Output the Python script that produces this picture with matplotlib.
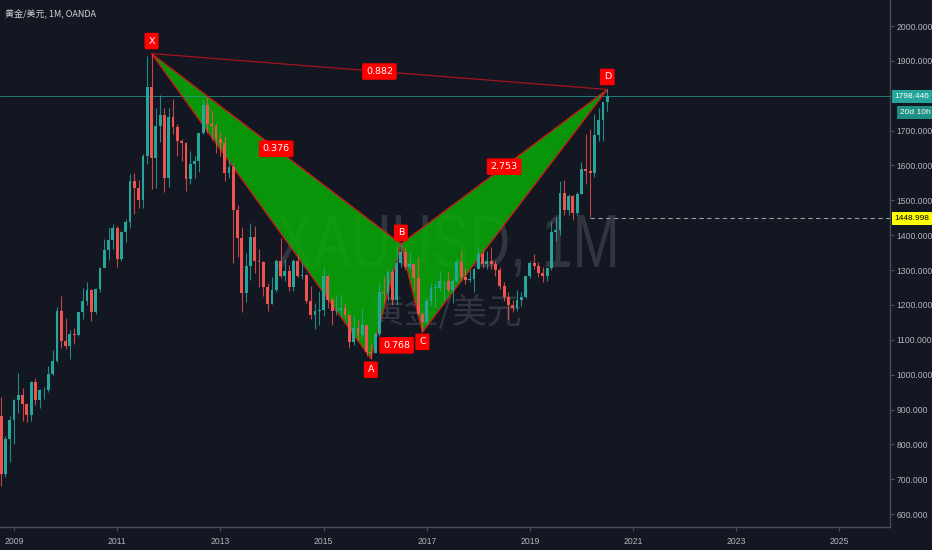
import matplotlib
matplotlib.use('Agg')
import matplotlib.pyplot as plt
from matplotlib.patches import Polygon, PathPatch
from matplotlib.textpath import TextPath
from matplotlib.font_manager import FontProperties
import matplotlib.transforms as mtrans
import pandas as pd

# monthly XAUUSD candles, Oct 2008 .. Jul 2020 (last bar still open)
start_month = '2008-10'
opens = [880, 716, 814,
         869, 927, 942, 916, 883, 979, 927, 955, 955, 1001, 1040, 1182,
         1096, 1081, 1118, 1113, 1179, 1212, 1244, 1181, 1247, 1307, 1357, 1386,
         1421, 1332, 1409, 1439, 1556, 1536, 1500, 1628, 1826, 1620, 1714, 1746,
         1564, 1738, 1710, 1669, 1664, 1561, 1604, 1614, 1692, 1772, 1719, 1713,
         1675, 1664, 1578, 1595, 1472, 1393, 1234, 1313, 1396, 1327, 1323, 1250,
         1202, 1244, 1326, 1284, 1296, 1250, 1327, 1282, 1287, 1210, 1171, 1182,
         1184, 1283, 1213, 1183, 1184, 1190, 1172, 1095, 1135, 1115, 1142, 1065,
         1061, 1118, 1238, 1233, 1293, 1215, 1321, 1351, 1309, 1316, 1277, 1173,
         1152, 1211, 1249, 1249, 1268, 1268, 1242, 1269, 1322, 1280, 1271, 1275,
         1303, 1345, 1318, 1325, 1316, 1299, 1253, 1224, 1201, 1192, 1215, 1222,
         1282, 1321, 1313, 1292, 1284, 1305, 1409, 1414, 1520, 1472, 1513, 1464,
         1517, 1589, 1585, 1577, 1687, 1730, 1781]
highs = [936, 825, 880,
         930, 1006, 962, 920, 983, 990, 960, 965, 1025, 1070, 1195, 1227,
         1162, 1128, 1135, 1180, 1249, 1266, 1245, 1249, 1310, 1388, 1424, 1431,
         1425, 1411, 1447, 1575, 1577, 1558, 1632, 1913, 1921, 1764, 1803, 1764,
         1764, 1791, 1719, 1677, 1668, 1641, 1627, 1693, 1790, 1796, 1755, 1723,
         1696, 1684, 1617, 1605, 1487, 1424, 1348, 1434, 1425, 1361, 1327, 1262,
         1280, 1332, 1392, 1331, 1315, 1332, 1345, 1323, 1288, 1255, 1206, 1239,
         1308, 1287, 1224, 1225, 1232, 1205, 1175, 1170, 1157, 1191, 1142, 1088,
         1123, 1263, 1283, 1304, 1304, 1362, 1375, 1367, 1352, 1318, 1338, 1180,
         1220, 1264, 1264, 1296, 1270, 1296, 1274, 1331, 1358, 1306, 1299, 1306,
         1366, 1361, 1356, 1365, 1326, 1309, 1266, 1237, 1214, 1243, 1237, 1284,
         1326, 1347, 1324, 1310, 1306, 1439, 1453, 1555, 1557, 1517, 1516, 1524,
         1611, 1689, 1704, 1748, 1765, 1779, 1818]
lows = [681, 705, 749,
        802, 890, 866, 865, 868, 913, 905, 931, 950, 1000, 1035, 1075,
        1073, 1044, 1088, 1111, 1161, 1200, 1155, 1175, 1238, 1315, 1330, 1360,
        1309, 1325, 1381, 1420, 1462, 1477, 1478, 1603, 1532, 1535, 1667, 1523,
        1537, 1690, 1627, 1614, 1527, 1547, 1564, 1582, 1689, 1692, 1672, 1636,
        1626, 1555, 1563, 1321, 1338, 1180, 1208, 1271, 1292, 1251, 1225, 1182,
        1202, 1238, 1277, 1268, 1240, 1240, 1281, 1273, 1206, 1160, 1131, 1142,
        1167, 1191, 1142, 1170, 1169, 1162, 1077, 1085, 1098, 1108, 1053, 1046,
        1062, 1111, 1208, 1212, 1200, 1199, 1310, 1301, 1303, 1241, 1171, 1122,
        1146, 1200, 1195, 1241, 1214, 1237, 1205, 1267, 1272, 1261, 1265, 1236,
        1302, 1307, 1303, 1302, 1282, 1245, 1211, 1160, 1180, 1182, 1196, 1221,
        1276, 1303, 1280, 1266, 1268, 1301, 1382, 1400, 1459, 1458, 1445, 1459,
        1517, 1548, 1451, 1568, 1671, 1671, 1757]
closes = [716, 814, 869,
          927, 942, 916, 883, 979, 927, 955, 955, 1001, 1040, 1182, 1096,
          1081, 1118, 1113, 1179, 1212, 1244, 1181, 1247, 1307, 1357, 1386, 1421,
          1332, 1409, 1439, 1556, 1536, 1500, 1628, 1826, 1620, 1714, 1746, 1564,
          1738, 1710, 1669, 1664, 1561, 1604, 1614, 1692, 1772, 1719, 1713, 1675,
          1664, 1578, 1595, 1472, 1393, 1234, 1313, 1396, 1327, 1323, 1250, 1202,
          1244, 1326, 1284, 1296, 1250, 1327, 1282, 1287, 1210, 1171, 1182, 1184,
          1283, 1213, 1183, 1184, 1190, 1172, 1095, 1135, 1115, 1142, 1065, 1061,
          1118, 1238, 1233, 1293, 1215, 1321, 1351, 1309, 1316, 1277, 1173, 1152,
          1211, 1249, 1249, 1268, 1268, 1242, 1269, 1322, 1280, 1271, 1275, 1303,
          1345, 1318, 1325, 1316, 1299, 1253, 1224, 1201, 1192, 1215, 1222, 1282,
          1321, 1313, 1292, 1284, 1305, 1409, 1414, 1520, 1472, 1513, 1464, 1517,
          1589, 1585, 1577, 1687, 1730, 1781, 1798.446]

# XABCD pattern
pattern_names = ['X', 'A', 'B', 'C', 'D']
pattern_months = ['2011-09', '2015-12', '2016-07', '2016-12', '2020-07']
pattern_prices = [1921, 1046, 1375, 1122, 1818]
ratio_legs = [('X', 'B'), ('A', 'C'), ('B', 'D'), ('X', 'D')]
ratio_labels = ['0.376', '0.768', '2.753', '0.882']

last_price = 1798.446
countdown = '20d 10h'
level_price = 1448.998
level_start = '2020-03'

year_ticks = list(range(2009, 2026, 2))
price_ticks = list(range(600, 2001, 100))

BG = '#131722'
UP = '#26a69a'
DOWN = '#ef5350'
TXT = '#b2b5be'
CJK = ['Noto Sans CJK SC', 'DejaVu Sans']
W, H = 932, 550


def to_year(m):
    t = pd.Timestamp(m)
    return t.year + (t.month - 1) / 12


dates = pd.date_range(start_month, periods=len(closes), freq='MS')
xs = [d.year + (d.month - 1) / 12 for d in dates]

fig = plt.figure(figsize=(W / 100, H / 100), dpi=100, facecolor=BG)
ax = fig.add_axes([0, 23 / H, 890 / W, 527 / H], facecolor=BG)
ax.set_xlim(2008.729, 2025.98)
ax.set_ylim(563, 2074.6)

# candles (on top of the pattern fill, like the reference)
w = 0.66 / 12
for x, o, h, l, c in zip(xs, opens, highs, lows, closes):
    col = UP if c >= o else DOWN
    ax.vlines(x, l, h, color=col, lw=0.8, alpha=0.8, zorder=4)
    ax.bar(x, max(abs(c - o), 1.5), bottom=min(o, c), width=w, color=col,
           linewidth=0, zorder=5)

# watermark, stretched to the reference's box (pixels)
wm_font = FontProperties(family='Liberation Sans')
tp = TextPath((0, 0), 'XAUUSD, 1M', size=1, prop=wm_font)
bb = tp.get_extents()
sx = 338 / bb.width
sy = 54 / 0.716
T = (mtrans.Affine2D().translate(-bb.x0, 0).scale(sx / W, sy / H)
     .translate(277 / W, (H - 267) / H) + fig.transFigure)
ax.add_patch(PathPatch(tp, transform=T, fc='#787b86', ec='none', alpha=0.3, zorder=1))
ax.text(445 / W, 1 - 313 / H, '黄金/美元', transform=fig.transFigure, ha='center',
        va='center', fontsize=25, family=CJK, color='#787b86', alpha=0.3, zorder=1)

# harmonic pattern
px = [to_year(m) for m in pattern_months]
pts = dict(zip(pattern_names, zip(px, pattern_prices)))
for tri in (['X', 'A', 'B'], ['B', 'C', 'D']):
    ax.add_patch(Polygon([pts[n] for n in tri], closed=True, facecolor='#08ac06',
                         edgecolor='none', alpha=0.85, zorder=2))
    ax.add_patch(Polygon([pts[n] for n in tri], closed=True, facecolor='none',
                         edgecolor='#d8141c', lw=1.0, alpha=0.9, zorder=3))
ax.plot([pts['X'][0], pts['D'][0]], [pts['X'][1], pts['D'][1]], color='#c8141c',
        lw=0.9, alpha=0.8, zorder=3)

box = dict(boxstyle='round,pad=0.4,rounding_size=0.15', fc='#ff0000', ec='none')
offsets = {'X': (0, 9), 'A': (0, -8), 'B': (0, 8), 'C': (0, -7), 'D': (0, 9)}
for n in pattern_names:
    ax.annotate(n, pts[n], xytext=offsets[n], textcoords='offset points',
                ha='center', va='center', fontsize=6.8, color='white', bbox=box, zorder=6)
for (a, b), lab in zip(ratio_legs, ratio_labels):
    mx = (pts[a][0] + pts[b][0]) / 2
    my = (pts[a][1] + pts[b][1]) / 2
    ax.text(mx, my, lab, ha='center', va='center', fontsize=6.8, color='white',
            bbox=box, zorder=6)

# price lines
ax.axhline(last_price, color=UP, lw=0.7, alpha=0.7, zorder=2)
ax.plot([to_year(level_start), 2025.98], [level_price, level_price], color='#9598a1',
        lw=0.8, ls=(0, (4, 3)), zorder=2)

# axes styling
for s in ('top', 'left'):
    ax.spines[s].set_visible(False)
for s in ('right', 'bottom'):
    ax.spines[s].set_color('#4a4e59')
    ax.spines[s].set_linewidth(1.0)
ax.yaxis.tick_right()
ax.set_yticks(price_ticks)
# the 1800 label sits under the last-price tag, as in the reference
ax.set_yticklabels(['' if abs(p - last_price) < 20 else f'{p:.3f}' for p in price_ticks])
ax.set_xticks(year_ticks)
ax.set_xticklabels([str(y) for y in year_ticks])
ax.tick_params(axis='both', colors='#4a4e59', labelcolor=TXT, labelsize=6.2,
               length=3, width=0.8)
ax.tick_params(axis='y', pad=1.5)
ax.tick_params(axis='x', pad=4)
for lab in ax.get_xticklabels() + ax.get_yticklabels():
    lab.set_family('Liberation Sans')

# right-axis price tags
tr = mtrans.blended_transform_factory(ax.transAxes, ax.transData)
tag = dict(transform=tr, ha='left', va='center', fontsize=6, family='Liberation Sans',
           clip_on=False, zorder=7)
ax.text(1.005, last_price, f'{last_price:.3f}', color='white',
        bbox=dict(boxstyle='square,pad=0.35', fc=UP, ec='none'), **tag)
ax.text(1.011, last_price - 46, countdown, color='white',
        bbox=dict(boxstyle='square,pad=0.35', fc='#1f8f84', ec='none'), **tag)
ax.text(1.005, level_price, f'{level_price:.3f}', color='black',
        bbox=dict(boxstyle='square,pad=0.35', fc='#ffff00', ec='none'), **tag)

# title
fig.text(5 / W, 1 - 13 / H, '黄金/美元, 1M, OANDA', ha='left', va='center',
         fontsize=6.5, family=CJK, color='#d1d4dc')

fig.savefig('out.png', dpi=100, facecolor=BG)
